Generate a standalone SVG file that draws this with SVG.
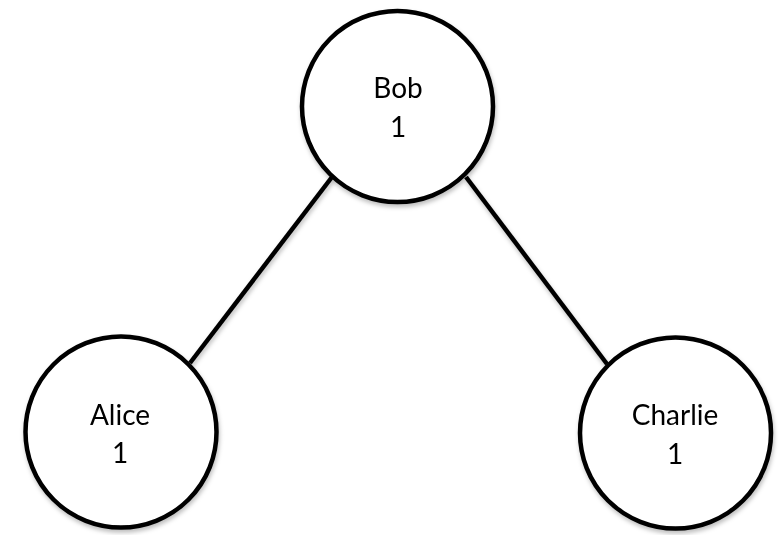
<svg xmlns="http://www.w3.org/2000/svg" width="783" height="535" viewBox="0 0 783 535">
<defs>
<filter id="sh" x="-20%" y="-20%" width="140%" height="140%">
<feDropShadow dx="1" dy="3" stdDeviation="2" flood-color="#000" flood-opacity="0.25"/>
</filter>
</defs>
<style>
.node circle{fill:#fff;stroke:#000;stroke-width:4.5}
.node text{font-family:Lato,"Open Sans","Liberation Sans",sans-serif;font-size:28px;fill:#000;text-anchor:middle}
.edge{stroke:#000;stroke-width:4.5;fill:none}
</style>
<rect width="783" height="535" fill="#fff"/>
<g id="connectors" filter="url(#sh)">
<line class="edge" x1="332" y1="177" x2="190" y2="363"/>
<line class="edge" x1="466" y1="177" x2="607" y2="364"/>
</g>
<g id="bob" class="node" filter="url(#sh)">
<circle cx="397.5" cy="106.5" r="95.5"/>
<text x="398" y="98">Bob</text>
<text x="398" y="136.5">1</text>
</g>
<g id="alice" class="node" filter="url(#sh)">
<circle cx="121" cy="432" r="95.5"/>
<text x="120" y="425">Alice</text>
<text x="120" y="463">1</text>
</g>
<g id="charlie" class="node" filter="url(#sh)">
<circle cx="675.5" cy="433" r="95.5"/>
<text x="675" y="425">Charlie</text>
<text x="675" y="464">1</text>
</g>
</svg>
